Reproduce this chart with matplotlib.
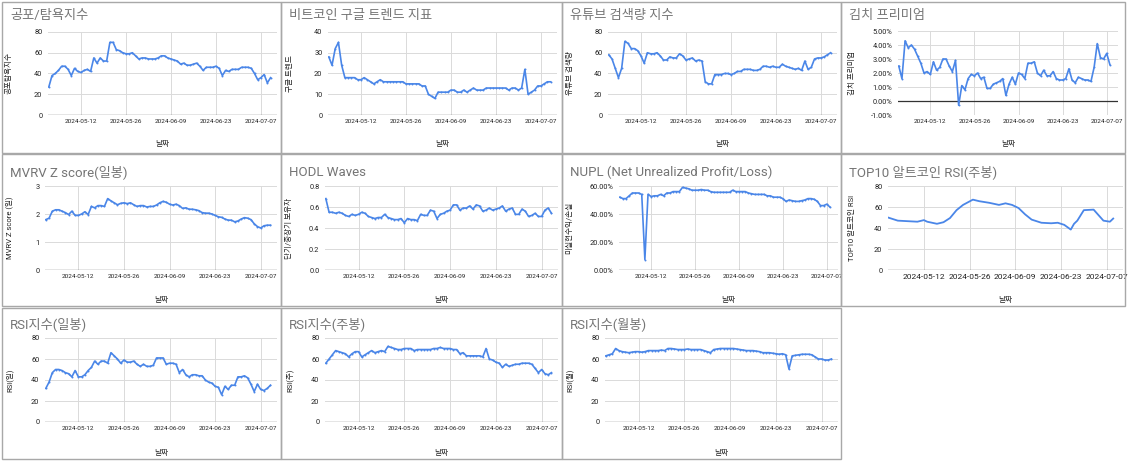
import matplotlib
matplotlib.use('Agg')
import matplotlib.pyplot as plt
from matplotlib.patches import Rectangle
from matplotlib.ticker import FuncFormatter, MultipleLocator
import matplotlib.dates as mdates
import pandas as pd

plt.rcParams['font.family'] = ['Roboto', 'Noto Sans CJK KR', 'DejaVu Sans']

fear_greed = [27, 38, 40, 43, 47, 47, 44, 38, 45, 42, 41, 43, 44, 42, 55, 50, 55, 52, 52, 70,
              70, 63, 62, 60, 59, 59, 60, 57, 54, 55, 55, 54, 54, 54, 55, 57, 57, 55, 54, 53,
              52, 49, 50, 48, 48, 49, 50, 47, 43, 46, 46, 46, 47, 45, 38, 43, 42, 44, 44, 44,
              46, 46, 46, 45, 40, 34, 36, 39, 31, 36]
google_trend = [28, 24, 32, 35, 24, 18, 18, 18, 18, 17, 17, 18, 17, 16, 15, 16, 17, 16, 16, 16,
                16, 16, 16, 16, 15, 15, 15, 15, 15, 14, 14, 10, 9, 8, 11, 11, 11, 11, 12, 12,
                11, 11, 12, 11, 12, 13, 12, 12, 12, 13, 13, 13, 13, 13, 13, 13, 12, 13, 13, 12,
                13, 22, 10, 11, 12, 14, 14, 15, 16, 16]
youtube = [58, 54, 45, 36, 45, 71, 69, 64, 64, 62, 57, 50, 60, 59, 59, 60, 57, 53, 53, 56,
           55, 55, 59, 57, 53, 54, 55, 52, 53, 52, 32, 30, 30, 39, 39, 39, 40, 40, 39, 40,
           42, 42, 44, 44, 44, 43, 43, 44, 47, 47, 46, 47, 46, 46, 49, 47, 46, 45, 44, 45,
           43, 52, 44, 46, 54, 55, 55, 56, 58, 60]
kimchi = [2.5, 1.6, 4.3, 3.8, 4.0, 3.7, 3.2, 2.7, 2.0, 2.1, 1.9, 2.8, 2.2, 2.4, 3.0, 3.0, 2.5,
          2.1, 2.9, -0.3, 1.1, 0.8, 1.6, 1.9, 1.8, 2.0, 1.6, 1.7, 0.9, 0.9, 1.2, 1.3, 1.4, 1.6,
          0.4, 1.2, 1.7, 1.2, 2.0, 1.9, 1.6, 2.7, 2.7, 2.8, 2.0, 1.8, 2.2, 1.8, 1.8, 2.1, 1.6,
          1.5, 1.5, 1.6, 2.3, 1.5, 1.3, 1.7, 1.6, 1.5, 1.5, 1.4, 2.4, 4.1, 3.1, 3.0, 3.4, 2.6]
mvrv = [1.8, 1.85, 2.1, 2.15, 2.15, 2.1, 2.05, 1.98, 2.1, 1.95, 1.95, 2.0, 2.08, 1.98, 2.27,
        2.22, 2.3, 2.3, 2.27, 2.55, 2.47, 2.4, 2.33, 2.38, 2.4, 2.37, 2.4, 2.33, 2.27, 2.3,
        2.3, 2.25, 2.27, 2.27, 2.32, 2.4, 2.45, 2.42, 2.35, 2.32, 2.35, 2.3, 2.2, 2.22, 2.17,
        2.17, 2.15, 2.12, 2.05, 2.03, 2.03, 2.0, 1.95, 1.9, 1.88, 1.82, 1.78, 1.78, 1.72, 1.75,
        1.82, 1.87, 1.85, 1.8, 1.65, 1.55, 1.5, 1.58, 1.6, 1.6]
hodl = [0.68, 0.55, 0.55, 0.54, 0.55, 0.54, 0.52, 0.51, 0.53, 0.52, 0.53, 0.55, 0.54, 0.51,
        0.5, 0.49, 0.5, 0.5, 0.53, 0.5, 0.49, 0.48, 0.48, 0.49, 0.45, 0.49, 0.48, 0.48, 0.47,
        0.53, 0.52, 0.52, 0.57, 0.56, 0.49, 0.53, 0.54, 0.56, 0.57, 0.62, 0.62, 0.57, 0.59,
        0.59, 0.61, 0.58, 0.62, 0.61, 0.56, 0.57, 0.59, 0.57, 0.58, 0.59, 0.61, 0.56, 0.58,
        0.59, 0.53, 0.53, 0.58, 0.56, 0.51, 0.52, 0.54, 0.51, 0.51, 0.57, 0.59, 0.54]
nupl = [52, 51, 51, 53, 55, 55, 55, 54, 7.5, 54, 52.5, 53, 53, 54, 53, 55, 55, 56, 56, 56,
        59, 58.5, 58, 57, 57, 57, 57.5, 57, 57, 56, 55.5, 55.5, 55.5, 55.5, 55.5, 55.5, 57, 56,
        56, 56, 56, 55, 54.5, 54, 54, 54, 54, 53, 53, 52, 52, 52, 51, 49, 50, 49.5, 49, 49,
        49.5, 50, 51, 51, 50.5, 49, 46, 46, 47, 45]
top10_dates = ['2024-05-01', '2024-05-04', '2024-05-07', '2024-05-10', '2024-05-12', '2024-05-13',
               '2024-05-16', '2024-05-18', '2024-05-20', '2024-05-22', '2024-05-24', '2024-05-27',
               '2024-05-29', '2024-06-01', '2024-06-04', '2024-06-06', '2024-06-08', '2024-06-10',
               '2024-06-12', '2024-06-14', '2024-06-17', '2024-06-20', '2024-06-22', '2024-06-24',
               '2024-06-26', '2024-06-27', '2024-06-28', '2024-06-30', '2024-07-03', '2024-07-06',
               '2024-07-08', '2024-07-09']
top10_rsi = [50, 47, 46.5, 46, 47.5, 46, 44, 45.5, 49.5, 57, 62, 67, 65.5, 64, 62, 63.5, 62, 59,
             53, 48, 45, 44.5, 45, 43, 38.5, 44, 47, 57, 57.5, 47, 46, 49]
rsi_daily = [32, 38, 47, 50, 50, 49, 47, 46, 43, 49, 43, 43, 45, 49, 52, 58, 55, 58, 58, 56,
             66, 63, 60, 56, 59, 57, 57, 58, 55, 53, 55, 53, 53, 54, 61, 61, 61, 55, 56, 56,
             55, 47, 50, 45, 43, 45, 45, 44, 44, 40, 38, 37, 34, 33, 26, 34, 31, 35, 35, 43,
             43, 44, 42, 36, 29, 36, 31, 30, 32, 35]
rsi_weekly = [56, 60, 64, 68, 67, 66, 65, 62, 65, 67, 67, 62, 64, 66, 68, 66, 67, 68, 67, 72,
              71, 70, 69, 69, 70, 70, 70, 68, 69, 69, 69, 69, 69, 70, 70, 71, 70, 70, 70, 69,
              69, 65, 66, 63, 63, 63, 63, 63, 62, 70, 60, 59, 57, 56, 52, 55, 53, 54, 55, 55,
              56, 56, 56, 55, 51, 47, 50, 46, 45, 47]
rsi_monthly = [63, 64, 65, 70, 68, 67, 66.5, 66, 66.5, 67, 67, 66.5, 67, 68, 68, 68, 68, 68.5,
               68, 70, 70, 69.5, 69, 69, 69, 69.5, 69, 69, 69, 69, 68, 67, 66, 69, 69.5, 70, 70,
               70, 70, 70, 69.5, 69, 68.5, 68, 68, 68, 67.5, 67, 66, 66, 66, 65.5, 65, 64.5, 65,
               64, 50.5, 63, 63.5, 64, 64.5, 64.5, 64.5, 64, 62, 60, 60, 59, 59, 60]

tick_dates = ['2024-05-12', '2024-05-26', '2024-06-09', '2024-06-23', '2024-07-07']

W, H = 1128, 461
BLUE = '#4a86e8'
GRID = '#dadada'


def days(values, start='2024-05-02'):
    return pd.date_range(start, periods=len(values), freq='D')


def draw_panel(fig, border, title_y, box, title, ylabel, x, y, ylim, ystep, yfmt,
               ylabel_x, xlabel_y, xlim, markers=True, xtick_size=4.6):
    bx0, by0, bx1, by1 = border
    fig.add_artist(Rectangle((bx0 / W, 1 - by1 / H), (bx1 - bx0) / W, (by1 - by0) / H,
                             transform=fig.transFigure, fill=False,
                             edgecolor='#a8a8a8', lw=1.0))
    fig.text((bx0 + 8) / W, 1 - title_y / H, title, fontsize=9.5, color='#757575',
             va='center', ha='left')

    l, r, t, b = box
    ax = fig.add_axes([l / W, 1 - b / H, (r - l) / W, (b - t) / H])
    if markers:
        ax.plot(x, y, color=BLUE, lw=1.2, marker='o', ms=1.4, mew=0)
    else:
        ax.plot(x, y, color=BLUE, lw=1.3)
    ax.set_ylim(*ylim)
    ax.set_xlim(pd.Timestamp(xlim[0]), pd.Timestamp(xlim[1]))
    ax.yaxis.set_major_locator(MultipleLocator(ystep))
    ax.yaxis.set_major_formatter(FuncFormatter(yfmt))
    ax.set_xticks(pd.to_datetime(tick_dates))
    ax.xaxis.set_major_formatter(mdates.DateFormatter('%Y-%m-%d'))
    ax.grid(True, color=GRID, lw=0.7)
    ax.set_axisbelow(True)
    ax.axhline(0, color='#333333', lw=0.9, zorder=1)
    for s in ax.spines.values():
        s.set_visible(False)
    ax.tick_params(axis='y', length=0, labelsize=5.3, colors='#222222', pad=4)
    ax.tick_params(axis='x', length=0, labelsize=xtick_size, colors='#222222', pad=3)

    ax.set_ylabel(ylabel, fontsize=5.5, color='#222222')
    ax.yaxis.set_label_coords((ylabel_x - l) / (r - l), 0.5)
    ax.set_xlabel('날짜', fontsize=5.5, color='#222222')
    ax.xaxis.set_label_coords(0.5, -(xlabel_y - b) / (b - t))
    return ax


int_fmt = lambda v, p: f'{v:g}'
pct_fmt = lambda v, p: f'{v:.2f}%'
dec_fmt = lambda v, p: f'{v:.1f}'

fig = plt.figure(figsize=(W / 100, H / 100), dpi=100)

full = ('2024-05-01 18:00', '2024-07-12')
short = ('2024-05-01 18:00', '2024-07-10 14:00')

# row 1
draw_panel(fig, (2, 2, 281, 153), 16, (48, 277, 32, 115), '공포/탐욕지수', '공포탐욕지수',
           days(fear_greed), fear_greed, (0, 80), 20, int_fmt, 12, 140, full)
draw_panel(fig, (281, 2, 562, 153), 16, (328, 557, 32, 115), '비트코인 구글 트렌드 지표', '구글 트렌드',
           days(google_trend), google_trend, (0, 40), 10, int_fmt, 293, 140, full)
draw_panel(fig, (562, 2, 841, 153), 16, (608, 837, 32, 115), '유튜브 검색량 지수', '유튜브 검색량',
           days(youtube), youtube, (0, 80), 20, int_fmt, 573, 140, full)
draw_panel(fig, (841, 2, 1125, 153), 16, (898, 1118, 31, 115), '김치 프리미엄', '김치 프리미엄',
           days(kimchi), kimchi, (-1, 5), 1, pct_fmt, 855, 140, short)

# row 2
draw_panel(fig, (2, 154, 281, 306), 172, (45, 277, 186, 270), 'MVRV Z score(일봉)', 'MVRV Z score (일)',
           days(mvrv), mvrv, (0, 3), 1, int_fmt, 13, 296, full)
draw_panel(fig, (281, 154, 562, 306), 172, (325, 558, 186, 270), 'HODL Waves', '단기/중장기 보유자',
           days(hodl), hodl, (0, 0.8), 0.2, dec_fmt, 292, 296, full)
draw_panel(fig, (562, 154, 841, 306), 172, (619, 838, 186, 270), 'NUPL (Net Unrealized Profit/Loss)',
           '미실현수익/손실', days(nupl), nupl, (0, 60), 20, pct_fmt, 572, 296, short)
draw_panel(fig, (841, 154, 1125, 306), 172, (888, 1123, 186, 270), 'TOP10 알트코인 RSI(주봉)',
           'TOP10 알트코인 RSI', pd.to_datetime(top10_dates), top10_rsi, (0, 80), 20, int_fmt,
           855, 296, ('2024-05-01', '2024-07-12'), markers=False, xtick_size=6)

# row 3
draw_panel(fig, (2, 308, 281, 459), 324, (45, 277, 338, 422), 'RSI지수(일봉)', 'RSI(일)',
           days(rsi_daily), rsi_daily, (0, 80), 20, int_fmt, 13, 449, full)
draw_panel(fig, (281, 308, 562, 459), 324, (325, 558, 338, 422), 'RSI지수(주봉)', 'RSI(주)',
           days(rsi_weekly), rsi_weekly, (0, 80), 20, int_fmt, 293, 449, full)
draw_panel(fig, (562, 308, 841, 459), 324, (605, 838, 338, 422), 'RSI지수(월봉)', 'RSI(월)',
           days(rsi_monthly), rsi_monthly, (0, 80), 20, int_fmt, 573, 449, full)

fig.savefig('out.png', dpi=100)
